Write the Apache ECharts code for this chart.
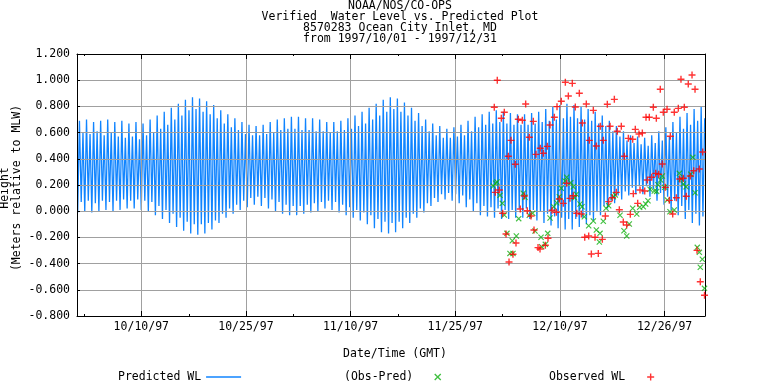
<!DOCTYPE html>
<html><head><meta charset="utf-8">
<script src="https://cdn.jsdelivr.net/npm/echarts@6/dist/echarts.min.js"></script>
<style>html,body{margin:0;padding:0;background:#fff}#c{width:768px;height:384px}</style>
</head><body><div id="c"></div>
<script>
// Predicted tide extremes (metres, MLW). Low/high pairs, one pair per tidal cycle.
const predHigh = [
 .69,.60,.70,.59,.68,.61,.69,.58,.70,.60,
 .68,.57,.69,.56,.67,.57,.68,.55,.67,.58,
 .70,.60,.73,.63,.76,.66,.79,.70,.82,.73,
 .85,.77,.87,.78,.86,.76,.84,.74,.81,.71,
 .77,.67,.74,.64,.71,.62,.68,.59,.66,.58,
 .65,.58,.66,.59,.68,.60,.70,.62,.71,.63,
 .72,.63,.72,.62,.71,.62,.71,.61,.70,.61,
 .68,.60,.68,.61,.69,.62,.71,.63,.73,.65,
 .76,.67,.79,.70,.82,.73,.85,.76,.87,.78,
 .86,.76,.83,.73,.79,.69,.75,.65,.70,.61,
 .67,.58,.65,.56,.63,.56,.64,.57,.66,.58,
 .69,.61,.72,.64,.74,.66,.76,.67,.77,.68,
 .76,.67,.75,.66,.74,.66,.74,.66,.75,.67,
 .76,.68,.78,.69,.80,.70,.81,.71,.82,.72,
 .81,.71,.80,.70,.78,.69,.76,.67,.73,.65,
 .69,.61,.65,.57,.61,.54,.58,.52,.57,.51,
 .56,.50,.58,.52,.61,.54,.64,.57,.68,.60,
 .72,.63,.75,.66,.78,.69,.80,.71
];
const predLow = [
 -.01,.07,.00,.08,-.01,.06,.00,.08,.01,.07,
 .00,.08,.01,.09,.02,.08,.02,.09,.01,.08,
 .00,.07,-.03,.04,-.06,.01,-.09,-.02,-.12,-.05,
 -.15,-.08,-.17,-.10,-.18,-.10,-.17,-.09,-.14,-.07,
 -.09,-.02,-.05,.02,-.02,.05,.01,.08,.03,.10,
 .05,.11,.04,.10,.02,.09,.00,.07,-.02,.05,
 -.03,.04,-.03,.04,-.02,.05,-.01,.06,.00,.07,
 .02,.08,.01,.07,-.01,.05,-.03,.03,-.05,.01,
 -.07,-.01,-.10,-.03,-.13,-.06,-.16,-.08,-.17,-.09,
 -.16,-.08,-.13,-.05,-.09,-.02,-.05,.02,-.01,.06,
 .04,.10,.07,.13,.09,.14,.08,.13,.06,.12,
 .03,.09,.00,.06,-.03,.04,-.04,.03,-.05,.02,
 -.06,.01,-.06,.01,-.05,.02,-.05,.02,-.06,.01,
 -.07,.00,-.09,-.02,-.11,-.04,-.13,-.05,-.14,-.06,
 -.14,-.06,-.12,-.05,-.10,-.03,-.07,.00,-.03,.04,
 .02,.08,.06,.12,.09,.15,.12,.18,.13,.19,
 .13,.19,.11,.17,.08,.14,.05,.11,.01,.08,
 -.03,.04,-.06,.01,-.09,-.02,-.11,-.04
];
const predStartDay = 0.1;      // days since 1997-10-01 00:00 GMT
const predStepDays = 0.25875;  // half a tidal cycle

// Observed WL (days since 1997-10-01, metres)
const obsDays = [61.13,61.28,61.57,61.87,62.16,62.36,62.60,62.85,63.19,63.29,63.58,63.87,64.21,64.31,64.65,64.94,65.24,65.53,65.73,65.97,66.26,66.51,66.85,66.95,67.24,67.54,67.83,67.87,68.31,68.61,68.90,69.00,69.30,69.59,69.93,70.22,70.32,70.66,70.95,71.24,71.54,71.74,71.98,72.22,72.56,72.71,73.00,73.21,73.59,73.88,74.03,74.38,74.61,74.96,75.05,75.35,75.64,75.89,76.08,76.37,76.66,76.96,77.10,77.40,77.69,77.89,78.09,78.42,78.72,79.01,79.15,79.45,79.74,80.03,80.18,80.53,80.77,81.06,81.41,81.50,81.79,82.14,82.33,82.48,82.82,83.17,83.36,83.55,83.84,84.19,84.43,84.78,84.87,85.22,85.45,85.75,85.89,86.19,86.44,86.77,86.92,87.27,87.50,87.80,88.09,88.30,88.48,88.82,88.97,89.26,89.55,89.85,90.10,90.35,90.54,90.83,91.17,91.31,91.66,91.93];
const obsVals = [0.793,0.144,1.00,0.162,0.709,-0.016,0.755,-0.174,0.419,-0.388,0.541,-0.329,0.358,-0.243,0.702,0.017,0.694,0.116,0.818,0.004,0.564,-0.037,0.686,-0.143,0.434,-0.278,-0.288,0.48,0.442,-0.26,0.495,-0.207,0.658,0.007,0.717,-0.008,0.798,0.093,0.839,0.06,0.984,0.213,0.879,0.098,0.976,0.118,0.795,-0.016,0.90,-0.021,0.673,-0.199,0.818,-0.189,0.541,-0.327,0.77,-0.199,0.498,-0.322,0.648,-0.215,0.541,-0.037,0.816,0.073,0.648,0.103,0.854,0.144,0.61,0.011,0.648,-0.082,0.419,-0.105,0.556,-0.024,0.549,0.134,0.625,0.06,0.589,0.162,0.597,0.154,0.717,0.238,0.717,0.259,0.793,0.289,0.709,0.282,0.931,0.36,0.755,0.182,0.778,0.083,0.572,-0.021,0.755,0.103,0.785,0.246,1.007,0.251,0.793,0.114,0.971,0.269,1.04,0.309,0.931,-0.299,0.322,-0.538,0.452,-0.642];

// Obs - Pred
const diffDays = [60.99,61.34,61.53,61.97,62.31,62.60,62.99,63.43,63.77,63.87,64.36,64.71,65.38,65.63,66.26,66.76,67.10,67.98,68.07,68.61,68.96,69.30,69.84,70.28,70.66,70.95,71.49,71.74,72.33,72.71,72.90,73.15,73.69,73.98,74.32,74.96,75.64,76.08,76.52,76.62,77.10,77.50,77.89,78.57,78.86,79.55,80.13,80.53,80.91,81.41,82.00,82.43,82.96,83.31,83.65,83.94,84.57,84.92,85.11,85.51,85.75,86.10,86.48,86.87,87.50,88.24,88.48,88.82,89.22,89.91,90.21,90.54,90.87,91.17,91.31,91.61,91.93];
const diffVals = [0.192,0.213,0.223,0.121,0.06,-0.029,-0.169,-0.322,-0.225,-0.322,-0.189,-0.057,0.137,0.106,-0.031,-0.016,-0.151,-0.199,-0.271,-0.253,-0.169,-0.052,0.034,0.065,0.11,0.175,0.23,0.259,0.218,0.187,0.103,0.129,0.055,0.034,-0.042,-0.111,-0.075,-0.143,-0.235,-0.169,-0.077,0.022,0.042,0.11,0.124,-0.031,-0.149,-0.189,-0.098,0.022,-0.021,0.03,0.034,0.055,0.08,0.167,0.154,0.151,0.202,0.238,0.269,0.182,0.085,-0.004,0.009,0.289,0.246,0.208,0.187,0.282,0.411,0.141,-0.276,-0.314,-0.428,-0.367,-0.589];

const xTickDays = [9.42, 24.75, 40.08, 55.42, 70.75, 86.08];
const xTickLabels = ['10/10/97','10/25/97','11/10/97','11/25/97','12/10/97','12/26/97'];
const xMinorDays = [1.07, 16.38, 31.69, 47.0, 62.3, 77.6];
const xMin = 0, xMax = 92;

const pred = [];
for (let i = 0; i < predHigh.length; i++) {
  pred.push([predStartDay + (2*i)*predStepDays, predLow[i]]);
  pred.push([predStartDay + (2*i+1)*predStepDays, predHigh[i]]);
}
const obs = obsDays.map((d,i)=>[d, obsVals[i]]);
const diff = diffDays.map((d,i)=>[d, diffVals[i]]);

const FONT = 'DejaVu Sans Mono';
const FS = 11.5;
const PLUS = 'path://M0,2.8H7V4.2H0Z M2.8,0H4.2V7H2.8Z';
const CROSS = 'path://M0,0.8L0.8,0L6,5.2L5.2,6Z M5.2,0L6,0.8L0.8,6L0,5.2Z';
const GRID = '#a0a0a0';

const chart = echarts.init(document.getElementById('c'), null, {renderer:'canvas'});
const baseX = {type:'value', min:xMin, max:xMax, z:3, gridIndex:0};
chart.setOption({
  animation:false,
  backgroundColor:'#fff',
  grid:{left:77, right:63, top:54, bottom:68},
  xAxis:[
    Object.assign({}, baseX, {position:'bottom',
      axisLine:{show:true, onZero:false, lineStyle:{color:'#000', width:1}},
      axisTick:{show:true, inside:true, length:5, customValues:xTickDays, lineStyle:{color:'#000'}},
      axisLabel:{show:true, customValues:xTickDays, margin:5, color:'#000', fontFamily:FONT, fontSize:FS,
        formatter:v=>{const k=xTickDays.indexOf(v); return k>=0?xTickLabels[k]:'';}},
      splitLine:{show:true, lineStyle:{color:GRID, width:1}}}),
    Object.assign({}, baseX, {position:'bottom',
      axisLine:{show:false, onZero:false},
      axisTick:{show:true, inside:true, length:2, customValues:xMinorDays, lineStyle:{color:'#000'}},
      axisLabel:{show:false}, splitLine:{show:false}}),
    Object.assign({}, baseX, {position:'top',
      axisLine:{show:true, onZero:false, lineStyle:{color:'#000', width:1}},
      axisTick:{show:true, inside:true, length:5, customValues:xTickDays, lineStyle:{color:'#000'}},
      axisLabel:{show:false}, splitLine:{show:false}}),
    Object.assign({}, baseX, {position:'top',
      axisLine:{show:false, onZero:false},
      axisTick:{show:true, inside:true, length:2, customValues:xMinorDays, lineStyle:{color:'#000'}},
      axisLabel:{show:false}, splitLine:{show:false}})
  ],
  yAxis:[
    {type:'value', min:-0.8, max:1.2, interval:0.2, position:'left', z:2,
     axisLine:{show:true, onZero:false, lineStyle:{color:'#000', width:1}},
     axisTick:{show:true, inside:true, length:3, lineStyle:{color:'#000'}},
     axisLabel:{formatter:v=>v.toFixed(3), color:'#000', fontFamily:FONT, fontSize:FS, margin:7},
     splitLine:{show:true, lineStyle:{color:GRID, width:1}}},
    {type:'value', min:-0.8, max:1.2, interval:0.2, position:'right', z:3,
     axisLine:{show:true, onZero:false, lineStyle:{color:'#000', width:1}},
     axisTick:{show:false}, axisLabel:{show:false}, splitLine:{show:false}}
  ],
  legend:[
    {left:118, top:371, padding:0, align:'right', itemWidth:35, itemHeight:1.5, selectedMode:false,
     data:[{name:'Predicted WL', icon:'rect'}],
     textStyle:{fontFamily:FONT, fontSize:FS, color:'#000'}},
    {left:344, top:371, padding:0, align:'right', itemWidth:7, itemHeight:7, selectedMode:false,
     data:[{name:'(Obs-Pred)', icon:CROSS}],
     textStyle:{fontFamily:FONT, fontSize:FS, color:'#000', padding:[0,16,0,0]}},
    {left:549, top:371, padding:0, align:'right', itemWidth:7, itemHeight:7, selectedMode:false,
     data:[{name:'Observed WL', icon:PLUS}],
     textStyle:{fontFamily:FONT, fontSize:FS, color:'#000', padding:[0,17,0,0]}}
  ],
  graphic:[
    {type:'text', x:400, y:0, z:10, style:{text:'NOAA/NOS/CO-OPS\nVerified  Water Level vs. Predicted Plot\n8570283 Ocean City Inlet, MD\nfrom 1997/10/01 - 1997/12/31',
      align:'center', verticalAlign:'top', lineHeight:11.2, font:FS+'px "'+FONT+'"', fill:'#000'}},
    {type:'text', x:5, y:188, rotation:Math.PI/2, z:10, style:{text:'Height', align:'center', verticalAlign:'middle', font:FS+'px "'+FONT+'"', fill:'#000'}},
    {type:'text', x:17, y:188, rotation:Math.PI/2, z:10, style:{text:'(Meters relative to MLW)', align:'center', verticalAlign:'middle', font:FS+'px "'+FONT+'"', fill:'#000'}},
    {type:'text', x:395, y:354, z:10, style:{text:'Date/Time (GMT)', align:'center', verticalAlign:'middle', font:FS+'px "'+FONT+'"', fill:'#000'}}
  ],
  series:[
    {name:'Predicted WL', type:'line', xAxisIndex:0, yAxisIndex:0, data:pred, showSymbol:false, symbol:'none',
     z:1, lineStyle:{color:'#1084ff', width:1.3}, itemStyle:{color:'#1084ff'}, clip:true},
    {name:'(Obs-Pred)', type:'scatter', xAxisIndex:0, yAxisIndex:0, data:diff, symbol:CROSS, symbolSize:6,
     z:4, itemStyle:{color:'#10b010'}},
    {name:'Observed WL', type:'scatter', xAxisIndex:0, yAxisIndex:0, data:obs, symbol:PLUS, symbolSize:7,
     z:5, itemStyle:{color:'#ff0000'}}
  ]
});
</script></body></html>
